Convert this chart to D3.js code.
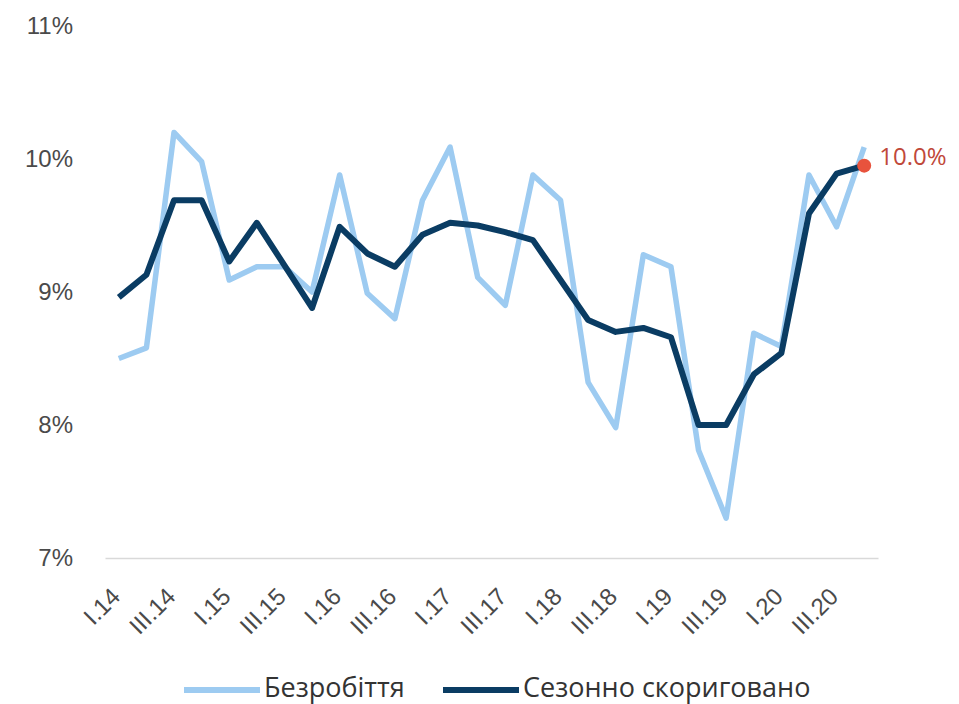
<!DOCTYPE html>
<html>
<head>
<meta charset="utf-8">
<script src="https://cdn.jsdelivr.net/npm/d3@7"></script>
<style>
  body { margin: 0; background: #fff; }
  svg { font-family: "Open Sans", "Noto Sans", sans-serif; }
</style>
</head>
<body>
<svg width="959" height="704"></svg>
<script>
var quarters = ["I.14","II.14","III.14","IV.14","I.15","II.15","III.15","IV.15",
                "I.16","II.16","III.16","IV.16","I.17","II.17","III.17","IV.17",
                "I.18","II.18","III.18","IV.18","I.19","II.19","III.19","IV.19",
                "I.20","II.20","III.20","IV.20"];
var tickLabels = ["I.14","III.14","I.15","III.15","I.16","III.16","I.17","III.17",
                  "I.18","III.18","I.19","III.19","I.20","III.20"];
var unemployment = [8.5, 8.58, 10.2, 9.98, 9.09, 9.19, 9.19, 9.0,
                    9.88, 8.99, 8.8, 9.69, 10.09, 9.11, 8.9, 9.88,
                    9.69, 8.32, 7.98, 9.28, 9.19, 7.81, 7.3, 8.69,
                    8.59, 9.88, 9.49, 10.09];
var seasonal = [8.96, 9.13, 9.69, 9.69, 9.23, 9.52, 9.2, 8.88,
                9.49, 9.29, 9.19, 9.43, 9.52, 9.5, 9.45, 9.39,
                9.09, 8.79, 8.7, 8.73, 8.66, 8.0, 8.0, 8.38,
                8.54, 9.59, 9.89, 9.95];
var yTicks = [7, 8, 9, 10, 11];
var seriesNames = ["Безробіття", "Сезонно скориговано"];
var lastLabel = "10.0%";

var svg = d3.select('svg');

var x = d3.scaleBand().domain(quarters).range([105, 878]);
var y = d3.scaleLinear().domain([7, 11]).range([558, 26]);
var cx = d => x(d) + x.bandwidth() / 2;

// y axis
var yAxis = svg.append('g')
    .attr('transform', 'translate(105,0)')
    .call(d3.axisLeft(y).tickValues(yTicks).tickSize(0).tickPadding(32)
        .tickFormat(d => d + '%'));
yAxis.select('.domain').remove();
yAxis.selectAll('text')
    .style('font-size', '24px')
    .style('fill', '#4a4a4a');

// x axis, labels rotated 45 degrees
var xAxis = svg.append('g')
    .attr('transform', 'translate(0,558)')
    .call(d3.axisBottom(x).tickValues(tickLabels).tickSize(0).tickSizeOuter(0));
xAxis.select('.domain')
    .attr('stroke', '#d9d9d9')
    .attr('stroke-width', 1.5);
xAxis.selectAll('.tick').each(function(d) {
    var tick = d3.select(this);
    tick.select('text').remove();
    tick.append('g')
        .attr('transform', 'translate(3,40) rotate(-45)')
        .append('text')
        .attr('text-anchor', 'end')
        .attr('fill', '#4a4a4a')
        .style('font-size', '24px')
        .text(d);
});

var line = d3.line()
    .x((d, i) => cx(quarters[i]))
    .y(d => y(d));

var linesG = svg.append('g').attr('class', 'linesG');

linesG.append('path')
    .datum(unemployment)
    .attr('d', line)
    .style('fill', 'none')
    .style('stroke', '#9dcbf1')
    .style('stroke-width', 5.5)
    .style('stroke-linejoin', 'round');

linesG.append('path')
    .datum(seasonal)
    .attr('d', line)
    .style('fill', 'none')
    .style('stroke', '#0a3c63')
    .style('stroke-width', 6)
    .style('stroke-linejoin', 'round');

// last point marker
var lastQ = quarters[quarters.length - 1];
var lastV = seasonal[seasonal.length - 1];
svg.append('circle')
    .attr('cx', cx(lastQ))
    .attr('cy', y(lastV))
    .attr('r', 7)
    .style('fill', '#e8533d');

svg.append('text')
    .attr('x', cx(lastQ) + 15)
    .attr('y', y(lastV) - 7)
    .attr('dominant-baseline', 'middle')
    .style('font-size', '24px')
    .style('fill', '#c0483a')
    .text(lastLabel);

// legend
var legend = svg.append('g').attr('class', 'legend');
var legendItems = [
    { name: seriesNames[0], color: '#9dcbf1', x: 184 },
    { name: seriesNames[1], color: '#0a3c63', x: 443 }
];
var items = legend.selectAll('g')
    .data(legendItems)
    .enter()
    .append('g')
    .attr('transform', d => 'translate(' + d.x + ',690)');
items.append('line')
    .attr('x1', 0).attr('x2', 76)
    .attr('y1', 0).attr('y2', 0)
    .style('stroke', d => d.color)
    .style('stroke-width', 6);
items.append('text')
    .attr('x', 80)
    .attr('y', 0)
    .attr('dominant-baseline', 'middle')
    .style('font-size', '27px')
    .style('fill', '#333')
    .text(d => d.name);
</script>
</body>
</html>
